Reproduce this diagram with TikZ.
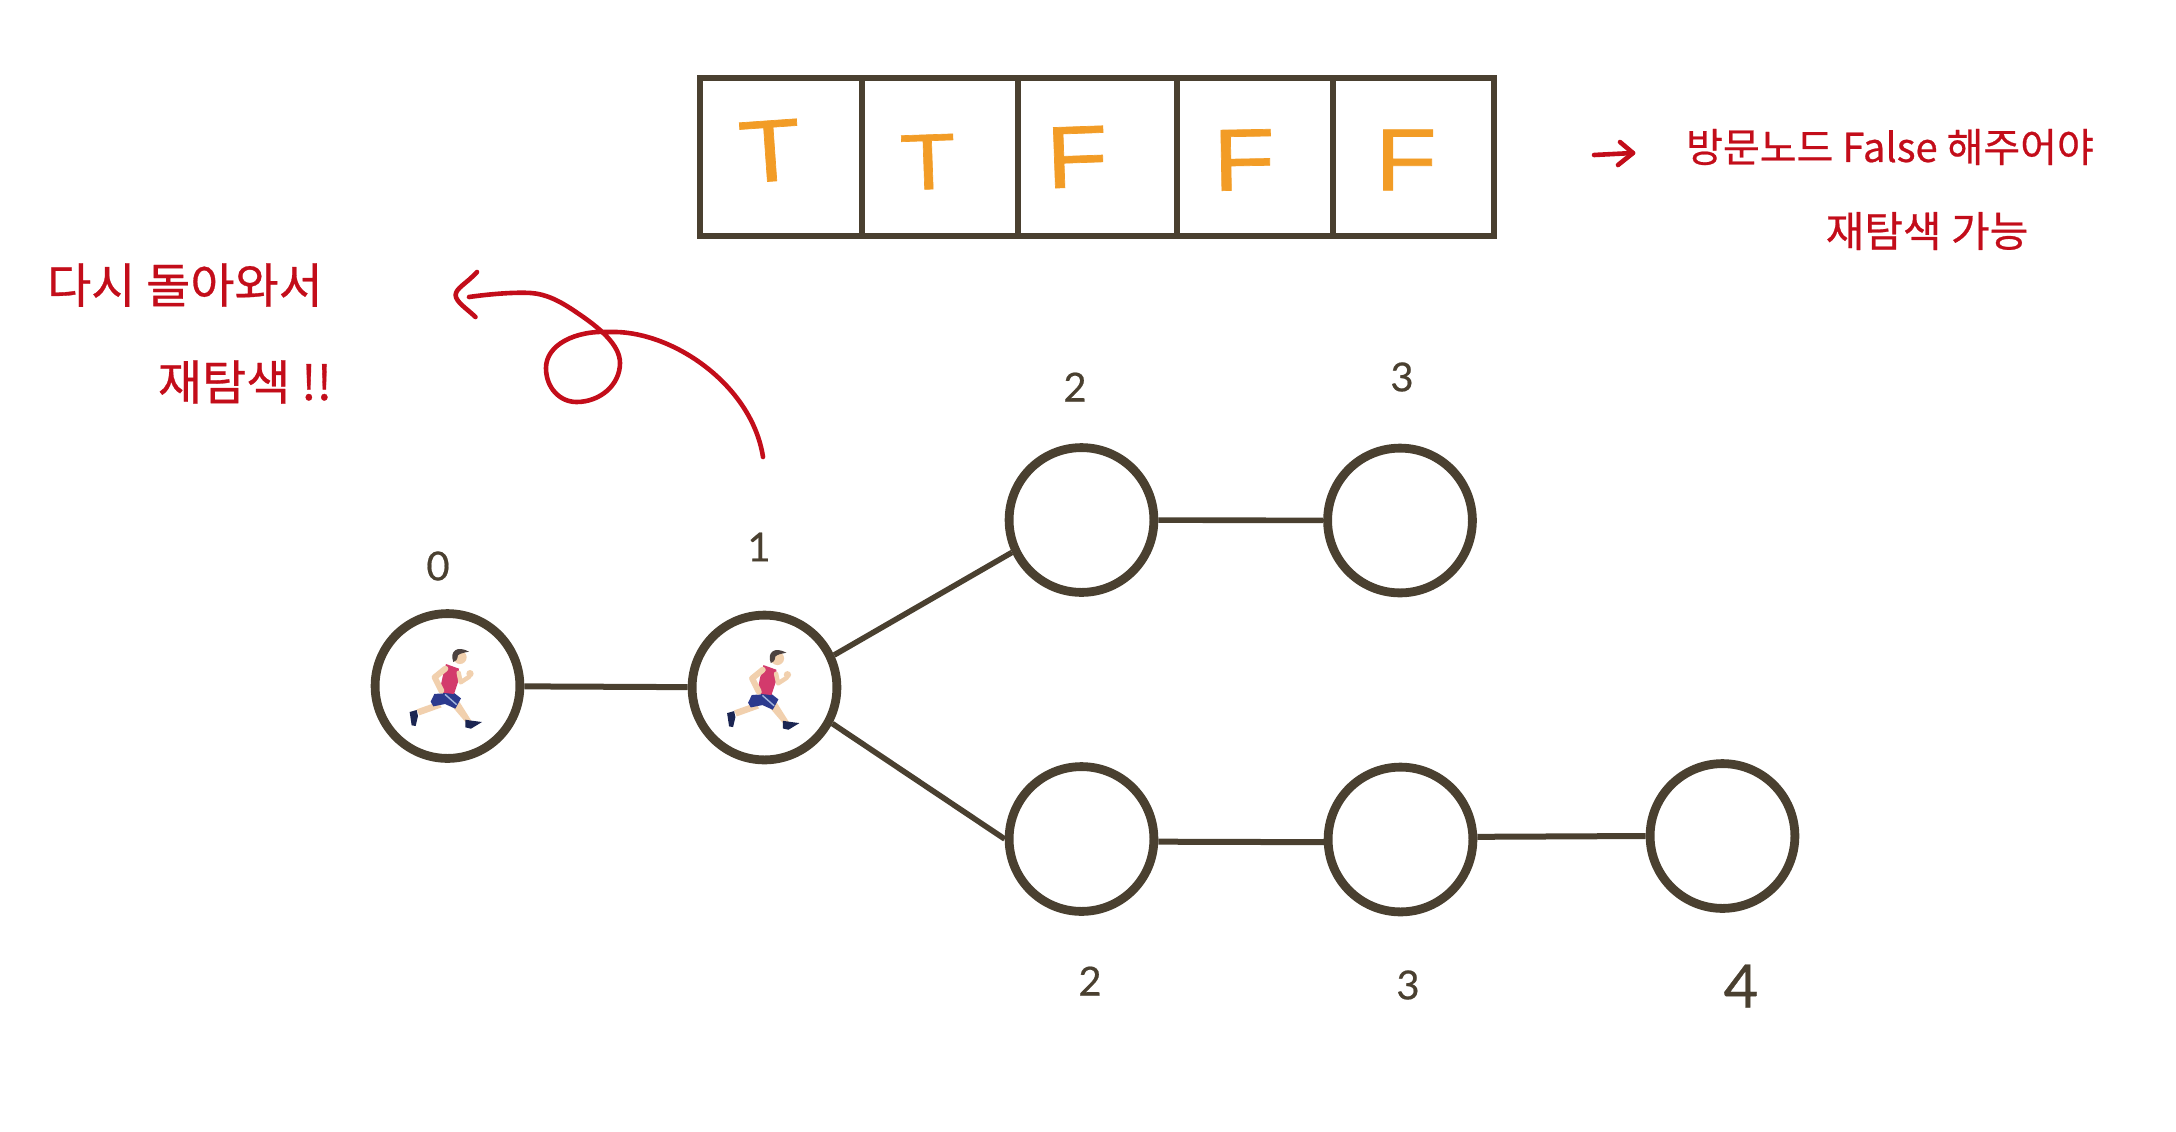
\documentclass[tikz,border=0pt]{standalone}
\usepackage{fontspec}
\newfontfamily\krfont[FakeBold=0.6]{Noto Sans CJK KR}
\newfontfamily\numfont[FakeBold=0.5]{Lato}
\newfontfamily\letfont[FakeBold=0.8,FakeStretch=1.15]{Liberation Sans}
\definecolor{ink}{HTML}{4A4030}
\definecolor{redink}{HTML}{C30D1A}
\definecolor{orangeink}{HTML}{F29C26}
\definecolor{skin}{HTML}{F1D0AE}
\definecolor{hairc}{HTML}{4C4240}
\definecolor{shirtc}{HTML}{D33A6C}
\definecolor{shortc}{HTML}{2C3A8E}
\definecolor{stripec}{HTML}{A4B7DE}
\definecolor{shoec}{HTML}{1B2552}
\tikzset{
  graphnode/.style={circle,draw=ink,line width=4.4pt,fill=white,minimum size=72.4pt,inner sep=0pt},
  edge/.style={draw=ink,line width=2.8pt},
  cell/.style={rectangle,draw=ink,line width=2.7pt,minimum height=79pt,inner sep=0pt},
  tf/.style={text=orangeink,font=\letfont\fontsize{44pt}{48pt}\selectfont,inner sep=0pt},
  numlabel/.style={text=ink,font=\numfont\fontsize{20pt}{24pt}\selectfont,inner sep=0pt},
  note/.style={text=redink,inner sep=0pt,font=\krfont\fontsize{#1}{30pt}\selectfont},
  redpen/.style={draw=redink,line width=2.3pt,line cap=round,line join=round},
  runner/.pic={
    \begin{scope}[shift={(-142.5,-168)}]
      % rear leg and shoe
      \fill[skin] (115,215) -- (125,232) -- (58,256) -- (50,238) -- cycle;
      \fill[shoec] (29,246) -- (50,240) -- (54,258) -- (47,288) -- (35,286) -- cycle;
      % front leg and shoe
      \fill[skin] (150,222) -- (178,215) -- (214,272) -- (197,277) -- cycle;
      \fill[shoec] (196,269) -- (215,272) -- (246,276) -- (213,296) -- (196,292) -- cycle;
      % shorts
      \fill[shortc] (103,192) -- (160,187) -- (183,205) -- (166,236) -- (135,222) -- (100,229) -- (92,215) -- cycle;
      \draw[stripec,line width=.7pt] (135,193) -- (170,224);
      % shirt
      \fill[shirtc] (138,102) -- (177,116) -- (176,150) -- (162,192) -- (118,187) -- (128,140) -- cycle;
      % arms
      \draw[skin,line width=3pt,line cap=round,line join=round] (136,116) -- (104,142) -- (124,182);
      \draw[skin,line width=2.2pt,line cap=round,line join=round] (176,128) -- (182,157) -- (208,140);
      \fill[skin] (210,131) circle[radius=11];
      % head
      \fill[skin] (180,82) circle[radius=20];
      \fill[hairc] (160,96) .. controls (148,62) and (172,46) .. (207,65)
        .. controls (192,68) and (180,70) .. (174,76) .. controls (172,88) and (168,96) .. (160,96) -- cycle;
    \end{scope}
  }
}
\begin{document}
\begin{tikzpicture}[x=0.5pt,y=-0.5pt]
\useasboundingbox (0,0) rectangle (2176,1131);
% array cells
\node[cell,minimum width=81pt] (cell0) at (781,157) {};
\node[cell,minimum width=78pt] (cell1) at (940,157) {};
\node[cell,minimum width=79.5pt] (cell2) at (1097.5,157) {};
\node[cell,minimum width=78pt] (cell3) at (1255,157) {};
\node[cell,minimum width=80.5pt] (cell4) at (1413.5,157) {};
\node[tf,rotate=4] (val0) at (770,151) {T};
\node[tf,rotate=2,scale=.9] (val1) at (928,162) {T};
\node[tf,rotate=2] (val2) at (1077,157) {F};
\node[tf,rotate=1] (val3) at (1244,160) {F};
\node[tf] (val4) at (1406,160) {F};
% graph nodes
\node[graphnode] (n0) at (447.5,686) {};
\node[graphnode] (n1) at (764.5,687.5) {};
\node[graphnode] (n2a) at (1081.5,520) {};
\node[graphnode] (n3a) at (1400,520.5) {};
\node[graphnode] (n2b) at (1081.5,839) {};
\node[graphnode] (n3b) at (1400.5,839.5) {};
\node[graphnode] (n4b) at (1722.5,836) {};
% edges
\draw[edge,line width=3pt] (n0) -- (n1);
\draw[edge] (n1.25) -- (n2a.205);
\draw[edge] (n1.-28) -- (n2b.180);
\draw[edge] (n2a) -- (n3a);
\draw[edge,line width=3pt] (n2b.-2) -- (n3b.182);
\draw[edge,line width=3pt] (n3b.2) -- (n4b.180);
% runners
\pic[x=0.1667pt,y=-0.1667pt] at (n0) {runner};
\pic[x=0.1667pt,y=-0.1667pt] at ([shift={(1.3,-1.3)}]n1) {runner};
% number labels
\node[numlabel] (l0) at (438,566) {0};
\node[numlabel] (l1) at (759,547) {1};
\node[numlabel] (l2a) at (1075,387) {2};
\node[numlabel] (l3a) at (1402,377) {3};
\node[numlabel] (l2b) at (1090,981) {2};
\node[numlabel] (l3b) at (1408,985) {3};
\node[numlabel,font=\numfont\fontsize{30pt}{34pt}\selectfont] (l4b) at (1741,986) {4};
% notes
\node[note=24pt] (again) at (185,285) {다시 돌아와서};
\node[note=24pt] (retry) at (245,382) {재탐색 !!};
\node[note=20pt] (reset) at (1890,147) {방문노드 False 해주어야};
\node[note=21pt] (can) at (1927,231) {재탐색 가능};
% red loop arrow
\coordinate (loopstart) at (763,457);
\coordinate (looptip) at (469,297);
\coordinate (headtip) at (455.6,295);
\coordinate (headtop) at (477,272);
\coordinate (headbot) at (475.5,317);
\draw[redpen] (loopstart) .. controls (752,385) and (672,330) .. (610,332)
  .. controls (575,330) and (546,345) .. (546,368)
  .. controls (546,388) and (560,402) .. (576.5,402)
  .. controls (600,402) and (620,385) .. (620,363)
  .. controls (620,345) and (600,328) .. (576,312)
  .. controls (560,301) and (546,294) .. (531,293)
  .. controls (515,292) and (490,294) .. (looptip);
\draw[redpen] (headtop) .. controls (466,284) and (456,288) .. (headtip) .. controls (456,302) and (466,308) .. (headbot);
% red right arrow
\coordinate (arrstart) at (1594,155);
\coordinate (arrtip) at (1633,153);
\coordinate (arrup) at (1620,142);
\coordinate (arrdn) at (1618,165);
\draw[redpen] (arrstart) -- (arrtip);
\draw[redpen] (arrup) -- (arrtip) -- (arrdn);
\end{tikzpicture}
\end{document}
